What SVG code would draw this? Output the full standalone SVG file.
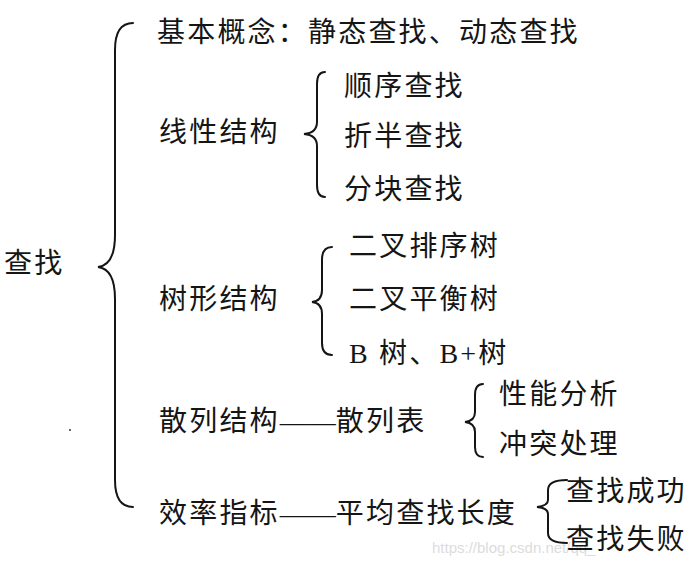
<svg xmlns="http://www.w3.org/2000/svg" width="690" height="562" viewBox="0 0 690 562">
<style>
.t{font-family:"Noto Sans CJK SC","Noto Sans",sans-serif;font-size:28px;fill:#151515;letter-spacing:2.2px}
.b{fill:none;stroke:#151515;stroke-width:2;stroke-linecap:round}
.lat{font-family:"Liberation Serif",serif}
.d{font-family:"Liberation Serif",serif;letter-spacing:0}
.wm{font-family:"Liberation Sans",sans-serif;font-size:15px;fill:#dcdcdc}
</style>
<rect width="690" height="562" fill="#fff"/>
<text class="wm" x="432" y="553">https://blog.csdn.net/qq_</text>
<g id="connectors">
<path class="b" d="M133 23 Q115 23 115 50 L115 235 Q115 265 98 267 Q115 269 115 299 L115 480 Q115 507 133 507"/>
<path class="b" d="M325 72 Q317 72 317 84 L317 122 Q317 133 304 134 Q317 135 317 146 L317 185 Q317 197 325 197"/>
<path class="b" d="M332 247 Q322 247 322 260 L322 290 Q322 301 312 302 Q322 303 322 314 L322 343 Q322 355 332 355"/>
<path class="b" d="M483 384 Q475 384 475 395 L475 412 Q475 421 465 422 Q475 423 475 432 L475 447 Q475 457 483 457"/>
<path class="b" d="M567 480 Q548 480 548 490 L548 500 Q548 506 537 507 Q548 508 548 514 L548 533 Q548 543 567 543"/>
</g>
<g id="root"><text class="t" x="4" y="273">查找</text></g>
<g id="basic"><text class="t" x="157" y="42">基本概念：静态查找、动态查找</text></g>
<g id="linear"><text class="t" x="159" y="142">线性结构</text></g>
<g id="seq"><text class="t" x="344" y="96">顺序查找</text></g>
<g id="bin"><text class="t" x="344" y="146">折半查找</text></g>
<g id="block"><text class="t" x="344" y="199">分块查找</text></g>
<g id="tree"><text class="t" x="159" y="309">树形结构</text></g>
<g id="bst"><text class="t" x="349" y="256">二叉排序树</text></g>
<g id="avl"><text class="t" x="349" y="309">二叉平衡树</text></g>
<g id="btree"><text class="t" x="349" y="363"><tspan class="lat">B </tspan>树、<tspan class="lat">B+</tspan>树</text></g>
<g id="hash"><text class="t" x="159" y="431">散列结构<tspan class="d">——</tspan>散列表</text></g>
<g id="perf"><text class="t" x="499" y="404">性能分析</text></g>
<g id="conflict"><text class="t" x="499" y="454">冲突处理</text></g>
<g id="eff"><text class="t" x="159" y="523">效率指标<tspan class="d">——</tspan>平均查找长度</text></g>
<g id="succ"><text class="t" x="566" y="501">查找成功</text></g>
<g id="fail"><text class="t" x="566" y="549">查找失败</text></g>
<circle cx="70" cy="430" r="1" fill="#333"/>
</svg>
